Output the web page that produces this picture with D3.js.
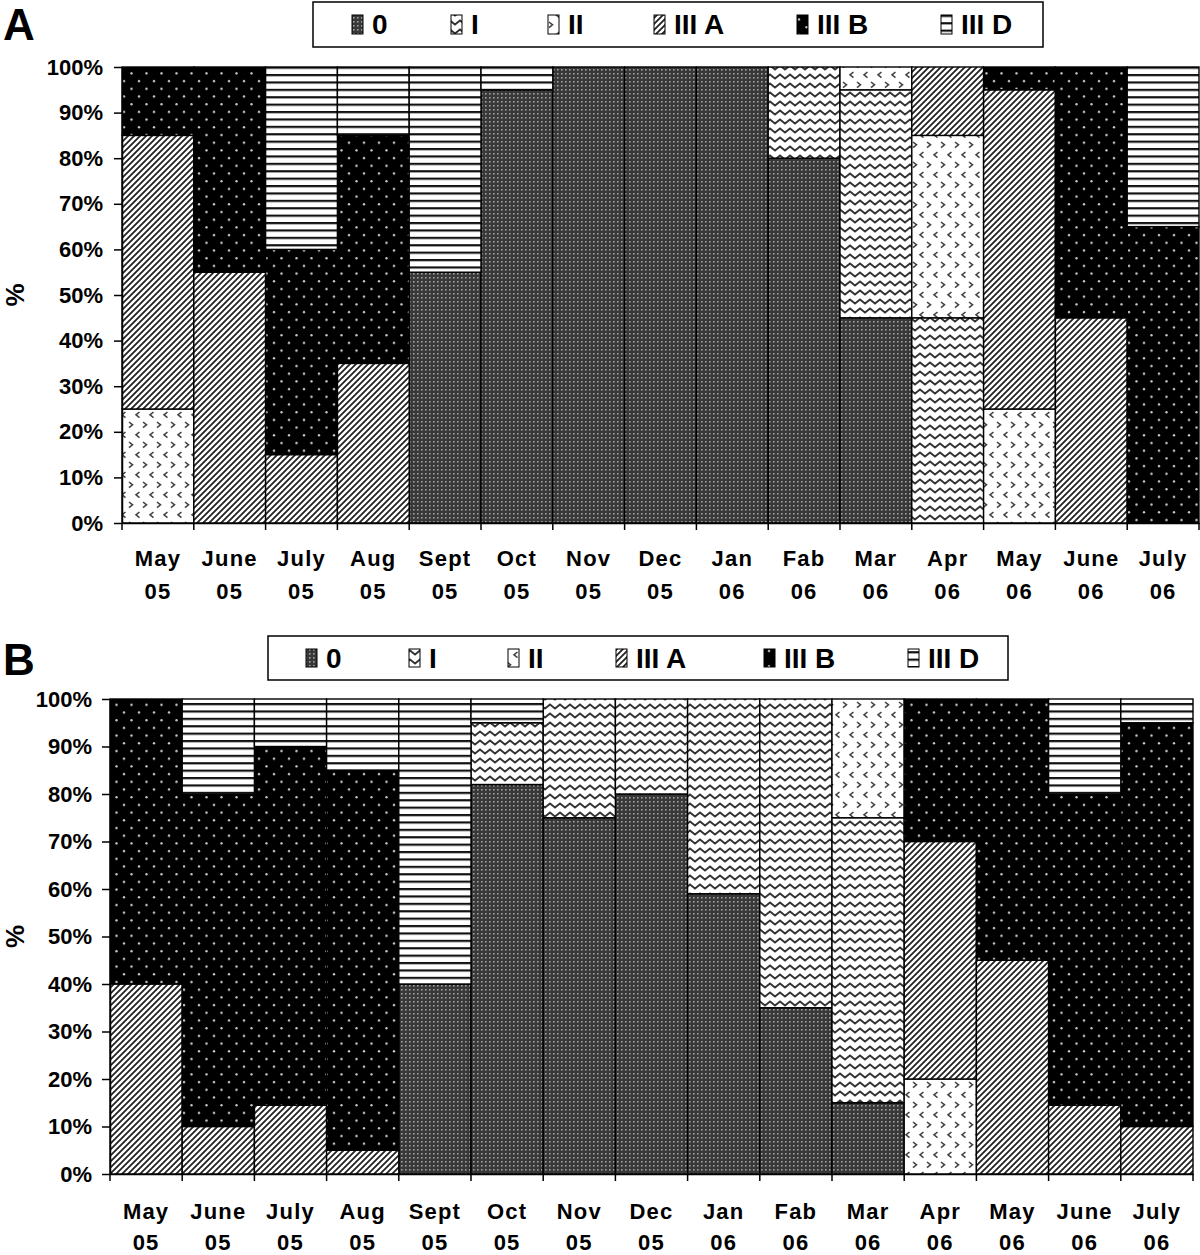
<!DOCTYPE html>
<html><head><meta charset="utf-8">
<script src="https://cdn.jsdelivr.net/npm/d3@7"></script>
<style>
html,body{margin:0;padding:0;background:#fff;}
svg{display:block;font-family:"Liberation Sans",Arial,sans-serif;font-weight:bold;}
</style></head>
<body>
<svg id="chart" width="1200" height="1255"></svg>
<script>
// ---------- data ----------
const categories = ["May 05","June 05","July 05","Aug 05","Sept 05","Oct 05","Nov 05","Dec 05","Jan 06","Fab 06","Mar 06","Apr 06","May 06","June 06","July 06"];
const seriesKeys = ["0","I","II","III A","III B","III D"];
const yTicks = [0,10,20,30,40,50,60,70,80,90,100];

// Panel A (% per month, stacked bottom→top in seriesKeys order)
const a_0    = [0,0,0,0,55,95,100,100,100,80,45,0,0,0,0];
const a_I    = [0,0,0,0,0,0,0,0,0,20,50,45,0,0,0];
const a_II   = [25,0,0,0,0,0,0,0,0,0,5,40,25,0,0];
const a_IIIA = [60,55,15,35,0,0,0,0,0,0,0,15,70,45,0];
const a_IIIB = [15,45,45,50,0,0,0,0,0,0,0,0,5,55,65];
const a_IIID = [0,0,40,15,45,5,0,0,0,0,0,0,0,0,35];

// Panel B
const b_0    = [0,0,0,0,40,82,75,80,59,35,15,0,0,0,0];
const b_I    = [0,0,0,0,0,13,25,20,41,65,60,0,0,0,0];
const b_II   = [0,0,0,0,0,0,0,0,0,0,25,20,0,0,0];
const b_IIIA = [40,10,14.5,5,0,0,0,0,0,0,0,50,45,14.5,10];
const b_IIIB = [60,70,75.5,80,0,0,0,0,0,0,0,30,55,65.5,85];
const b_IIID = [0,20,10,15,60,5,0,0,0,0,0,0,0,20,5];

function buildRows(arrs){
  return categories.map((c,i)=>{
    const r={cat:c};
    seriesKeys.forEach((k,j)=>r[k]=arrs[j][i]);
    return r;
  });
}
const rowsA = buildRows([a_0,a_I,a_II,a_IIIA,a_IIIB,a_IIID]);
const rowsB = buildRows([b_0,b_I,b_II,b_IIIA,b_IIIB,b_IIID]);

// ---------- patterns ----------
const svg = d3.select("#chart");
const defs = svg.append("defs");
function pat(id,w,h){
  return defs.append("pattern").attr("id",id).attr("patternUnits","userSpaceOnUse")
    .attr("width",w).attr("height",h);
}
// 0 : dark fine dotted
let p = pat("p0",4,4);
p.append("rect").attr("width",4).attr("height",4).attr("fill","#383838");
p.append("rect").attr("x",1).attr("y",1).attr("width",1.6).attr("height",1.6).attr("fill","#a0a0a0");
// I : zigzag
p = pat("p1",10,9);
p.append("rect").attr("width",10).attr("height",9).attr("fill","#fff");
p.append("path").attr("d","M-5,6.5 L0,2.5 L5,6.5 L10,2.5 L15,6.5").attr("fill","none")
  .attr("stroke","#333").attr("stroke-width",1.8);
// II : chevrons
p = pat("p2",14,20);
p.append("rect").attr("width",14).attr("height",20).attr("fill","#fff");
p.append("path").attr("d","M3,2 L6.5,4.8 L3,7.6 M13.5,12 L10,14.8 L13.5,17.6")
  .attr("fill","none").attr("stroke","#444").attr("stroke-width",1.6);
// III A : diagonal
p = pat("p3",6,6);
p.append("rect").attr("width",6).attr("height",6).attr("fill","#fff");
p.append("path").attr("d","M0,6 L6,0 M-1.5,1.5 L1.5,-1.5 M4.5,7.5 L7.5,4.5")
  .attr("stroke","#222").attr("stroke-width",1.8);
// III B : black with light dots
p = pat("p4",15,15.4);
p.append("rect").attr("width",15).attr("height",15.4).attr("fill","#000");
p.append("circle").attr("cx",4).attr("cy",4).attr("r",1.2).attr("fill","#ccc");
p.append("circle").attr("cx",11.5).attr("cy",11.7).attr("r",1.2).attr("fill","#ccc");
// III D : horizontal lines
p = pat("p5",10,7.4);
p.append("rect").attr("width",10).attr("height",7.4).attr("fill","#fff");
p.append("rect").attr("y",0).attr("width",10).attr("height",2.2).attr("fill","#111");

const fills = {"0":"url(#p0)","I":"url(#p1)","II":"url(#p2)","III A":"url(#p3)","III B":"url(#p4)","III D":"url(#p5)"};

// ---------- panel drawing ----------
function drawPanel(rows, L){
  const x = d3.scaleBand().domain(categories).range([L.x0,L.x1]).padding(0);
  const y = d3.scaleLinear().domain([0,100]).range([L.yBottom,L.yTop]);
  const stack = d3.stack().keys(seriesKeys)(rows);
  const g = svg.append("g");

  stack.forEach(layer=>{
    g.append("g").selectAll("rect").data(layer.filter(d=>d[1]-d[0]>0)).join("rect")
      .attr("x",d=>x(d.data.cat))
      .attr("y",d=>y(d[1]))
      .attr("width",x.bandwidth())
      .attr("height",d=>y(d[0])-y(d[1]))
      .attr("fill",fills[layer.key])
      .attr("stroke","#000").attr("stroke-width",1.4);
  });

  // y axis
  const ya = g.append("g").attr("transform",`translate(${L.x0},0)`)
    .call(d3.axisLeft(y).tickValues(yTicks).tickFormat(d=>d+"%").tickSize(8).tickPadding(L.tickPad).tickSizeOuter(0));
  ya.selectAll("path,line").attr("stroke","#000").attr("stroke-width",1.5);
  ya.selectAll("text").attr("font-size",22).attr("font-weight","bold")
    .attr("font-family","'Liberation Sans',Arial,sans-serif").attr("fill","#000");

  // x axis baseline + ticks at band boundaries
  const xa = g.append("g").attr("transform",`translate(0,${L.yBottom})`)
    .call(d3.axisBottom(x).tickSize(0).tickFormat(""));
  xa.select("path").attr("stroke","#000").attr("stroke-width",1.5);
  const bounds = categories.map(c=>x(c)).concat([x.range()[1]]);
  g.append("g").selectAll("line").data(bounds).join("line")
    .attr("x1",d=>d).attr("x2",d=>d).attr("y1",L.yBottom).attr("y2",L.yBottom+7)
    .attr("stroke","#000").attr("stroke-width",1.5);

  // x labels (two lines)
  const lab = g.append("g").selectAll("text").data(categories).join("text")
    .attr("text-anchor","middle").attr("font-size",22).attr("letter-spacing","1.2px")
    .attr("fill","#000");
  lab.append("tspan").attr("x",d=>x(d)+x.bandwidth()/2).attr("y",L.lab1).text(d=>d.split(" ")[0]);
  lab.append("tspan").attr("x",d=>x(d)+x.bandwidth()/2).attr("y",L.lab2).text(d=>d.split(" ")[1]);

  // "%" axis title
  g.append("text").attr("transform",`translate(${L.pctX},${(L.yTop+L.yBottom)/2}) rotate(-90)`)
    .attr("text-anchor","middle").attr("font-size",26).attr("fill","#000").text("%");

  // panel letter
  g.append("text").attr("x",3).attr("y",L.letterY).attr("font-size",44).attr("fill","#000").text(L.letter);

  // legend
  const lg = g.append("g");
  lg.append("rect").attr("x",L.lbox[0]).attr("y",L.lbox[1]).attr("width",L.lbox[2]).attr("height",L.lbox[3])
    .attr("fill","#fff").attr("stroke","#000").attr("stroke-width",1.5);
  seriesKeys.forEach((k,i)=>{
    lg.append("rect").attr("x",L.lsw[i]).attr("y",L.lswY).attr("width",11).attr("height",L.lswH)
      .attr("fill",fills[k]).attr("stroke","#000").attr("stroke-width",1);
    lg.append("text").attr("x",L.lsw[i]+L.ltxtOff).attr("y",L.ltxtY)
      .attr("font-size",28).attr("fill","#000").text(k);
  });
}

drawPanel(rowsA,{x0:122,x1:1199,yTop:67,yBottom:523,tickPad:11,lab1:566,lab2:599,pctX:24,letter:"A",letterY:40,
  lbox:[313,2,730,45],lsw:[352,451,548,654,797,941],lswY:15,lswH:19,ltxtOff:20,ltxtY:34});
drawPanel(rowsB,{x0:110,x1:1193,yTop:699,yBottom:1174,tickPad:10,lab1:1219,lab2:1250,pctX:24,letter:"B",letterY:675,
  lbox:[268,636,740,44],lsw:[306,409,508,616,764,908],lswY:649,lswH:18,ltxtOff:20,ltxtY:668});
</script>
</body></html>
